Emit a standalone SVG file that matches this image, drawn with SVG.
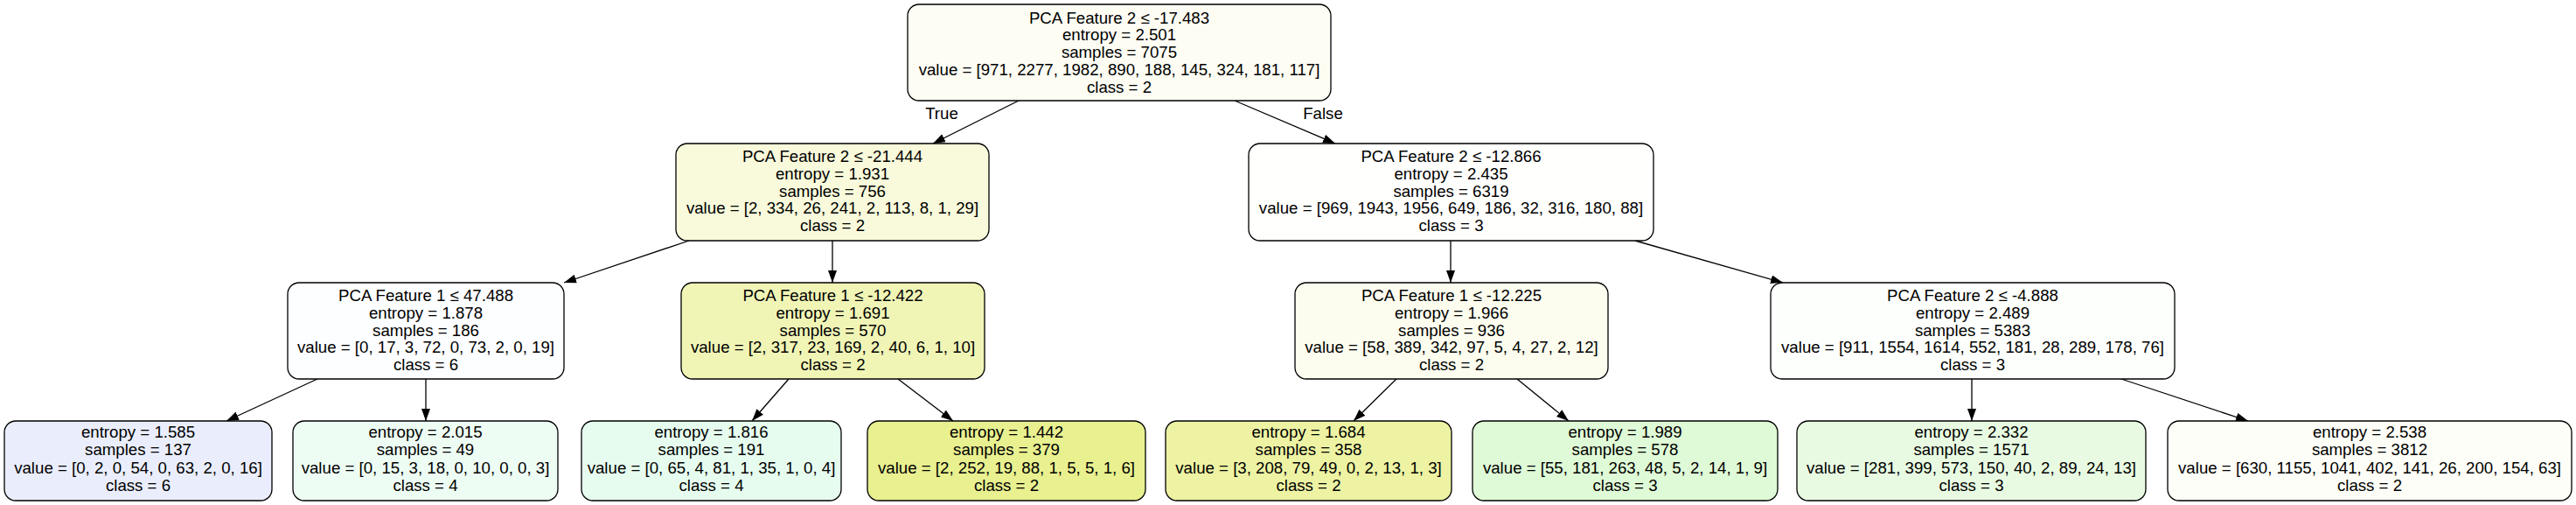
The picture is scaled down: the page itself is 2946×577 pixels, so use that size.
<svg xmlns="http://www.w3.org/2000/svg" width="2946" height="577" viewBox="0 0 2946 577">
<style>
.box{stroke:#000;stroke-width:1.3}
text{font-family:"Liberation Sans",Arial,Helvetica,sans-serif;font-size:18.67px;fill:#000;text-anchor:middle}
.edge{stroke:#000;stroke-width:1.3;fill:none;marker-end:url(#arr)}
</style>
<defs>
<marker id="arr" markerUnits="userSpaceOnUse" markerWidth="16" markerHeight="12" refX="14" refY="5" orient="auto"><path d="M0,0 L14,5 L0,10 Z" fill="#000"/></marker>
</defs>
<rect width="2946" height="577" fill="#fff"/>
<g id="connectors">
<path class="edge" d="M1165,115 L1067,164"/>
<path class="edge" d="M1412,115 L1527,164"/>
<path class="edge" d="M788,275 L645,323"/>
<path class="edge" d="M952,275 L952,323"/>
<path class="edge" d="M1659,275 L1659,323"/>
<path class="edge" d="M1870,275 L2039,323"/>
<path class="edge" d="M363,433 L259,481"/>
<path class="edge" d="M487,433 L487,481"/>
<path class="edge" d="M902,433 L860,481"/>
<path class="edge" d="M1027,433 L1090,481"/>
<path class="edge" d="M1597,433 L1548,481"/>
<path class="edge" d="M1735,433 L1794,481"/>
<path class="edge" d="M2255,433 L2255,481"/>
<path class="edge" d="M2426,433 L2571,481"/>
<text x="1077" y="136">True</text>
<text x="1513" y="136">False</text>
</g>
<g id="n0">
<rect class="box" x="1038" y="5" width="484" height="110" rx="13" fill="#fdfdf4"/>
<text x="1280" y="26.5">PCA Feature 2 ≤ -17.483</text>
<text x="1280" y="46.3">entropy = 2.501</text>
<text x="1280" y="66.1">samples = 7075</text>
<text x="1280" y="85.9">value = [971, 2277, 1982, 890, 188, 145, 324, 181, 117]</text>
<text x="1280" y="105.7">class = 2</text>
</g>
<g id="n1">
<rect class="box" x="773" y="164" width="358" height="111" rx="13" fill="#f8fadb"/>
<text x="952" y="185">PCA Feature 2 ≤ -21.444</text>
<text x="952" y="204.8">entropy = 1.931</text>
<text x="952" y="224.6">samples = 756</text>
<text x="952" y="244.4">value = [2, 334, 26, 241, 2, 113, 8, 1, 29]</text>
<text x="952" y="264.2">class = 2</text>
</g>
<g id="n2">
<rect class="box" x="1428" y="164" width="463" height="111" rx="13" fill="#fffffe"/>
<text x="1659.5" y="185">PCA Feature 2 ≤ -12.866</text>
<text x="1659.5" y="204.8">entropy = 2.435</text>
<text x="1659.5" y="224.6">samples = 6319</text>
<text x="1659.5" y="244.4">value = [969, 1943, 1956, 649, 186, 32, 316, 180, 88]</text>
<text x="1659.5" y="264.2">class = 3</text>
</g>
<g id="n3">
<rect class="box" x="329" y="323" width="316" height="110" rx="13" fill="#fdfeff"/>
<text x="487" y="344">PCA Feature 1 ≤ 47.488</text>
<text x="487" y="363.8">entropy = 1.878</text>
<text x="487" y="383.6">samples = 186</text>
<text x="487" y="403.4">value = [0, 17, 3, 72, 0, 73, 2, 0, 19]</text>
<text x="487" y="423.2">class = 6</text>
</g>
<g id="n4">
<rect class="box" x="779" y="323" width="347" height="110" rx="13" fill="#f0f5b6"/>
<text x="952.5" y="344">PCA Feature 1 ≤ -12.422</text>
<text x="952.5" y="363.8">entropy = 1.691</text>
<text x="952.5" y="383.6">samples = 570</text>
<text x="952.5" y="403.4">value = [2, 317, 23, 169, 2, 40, 6, 1, 10]</text>
<text x="952.5" y="423.2">class = 2</text>
</g>
<g id="n5">
<rect class="box" x="1481" y="323" width="358" height="110" rx="13" fill="#fcfdef"/>
<text x="1660" y="344">PCA Feature 1 ≤ -12.225</text>
<text x="1660" y="363.8">entropy = 1.966</text>
<text x="1660" y="383.6">samples = 936</text>
<text x="1660" y="403.4">value = [58, 389, 342, 97, 5, 4, 27, 2, 12]</text>
<text x="1660" y="423.2">class = 2</text>
</g>
<g id="n6">
<rect class="box" x="2025" y="323" width="462" height="110" rx="13" fill="#fdfffc"/>
<text x="2256" y="344">PCA Feature 2 ≤ -4.888</text>
<text x="2256" y="363.8">entropy = 2.489</text>
<text x="2256" y="383.6">samples = 5383</text>
<text x="2256" y="403.4">value = [911, 1554, 1614, 552, 181, 28, 289, 178, 76]</text>
<text x="2256" y="423.2">class = 3</text>
</g>
<g id="n7">
<rect class="box" x="5" y="481" width="306" height="91" rx="13" fill="#eaeefc"/>
<text x="158" y="499.5">entropy = 1.585</text>
<text x="158" y="520">samples = 137</text>
<text x="158" y="540.5">value = [0, 2, 0, 54, 0, 63, 2, 0, 16]</text>
<text x="158" y="561">class = 6</text>
</g>
<g id="n8">
<rect class="box" x="335" y="481" width="303" height="91" rx="13" fill="#eefdf4"/>
<text x="486.5" y="499.5">entropy = 2.015</text>
<text x="486.5" y="520">samples = 49</text>
<text x="486.5" y="540.5">value = [0, 15, 3, 18, 0, 10, 0, 0, 3]</text>
<text x="486.5" y="561">class = 4</text>
</g>
<g id="n9">
<rect class="box" x="665" y="481" width="297" height="91" rx="13" fill="#e6fcef"/>
<text x="813.5" y="499.5">entropy = 1.816</text>
<text x="813.5" y="520">samples = 191</text>
<text x="813.5" y="540.5">value = [0, 65, 4, 81, 1, 35, 1, 0, 4]</text>
<text x="813.5" y="561">class = 4</text>
</g>
<g id="n10">
<rect class="box" x="992" y="481" width="318" height="91" rx="13" fill="#e8f08f"/>
<text x="1151" y="499.5">entropy = 1.442</text>
<text x="1151" y="520">samples = 379</text>
<text x="1151" y="540.5">value = [2, 252, 19, 88, 1, 5, 5, 1, 6]</text>
<text x="1151" y="561">class = 2</text>
</g>
<g id="n11">
<rect class="box" x="1333" y="481" width="327" height="91" rx="13" fill="#edf3a3"/>
<text x="1496.5" y="499.5">entropy = 1.684</text>
<text x="1496.5" y="520">samples = 358</text>
<text x="1496.5" y="540.5">value = [3, 208, 79, 49, 0, 2, 13, 1, 3]</text>
<text x="1496.5" y="561">class = 2</text>
</g>
<g id="n12">
<rect class="box" x="1684" y="481" width="349" height="91" rx="13" fill="#dffad6"/>
<text x="1858.5" y="499.5">entropy = 1.989</text>
<text x="1858.5" y="520">samples = 578</text>
<text x="1858.5" y="540.5">value = [55, 181, 263, 48, 5, 2, 14, 1, 9]</text>
<text x="1858.5" y="561">class = 3</text>
</g>
<g id="n13">
<rect class="box" x="2055" y="481" width="399" height="91" rx="13" fill="#e8fbe2"/>
<text x="2254.5" y="499.5">entropy = 2.332</text>
<text x="2254.5" y="520">samples = 1571</text>
<text x="2254.5" y="540.5">value = [281, 399, 573, 150, 40, 2, 89, 24, 13]</text>
<text x="2254.5" y="561">class = 3</text>
</g>
<g id="n14">
<rect class="box" x="2479" y="481" width="462" height="91" rx="13" fill="#fdfef7"/>
<text x="2710" y="499.5">entropy = 2.538</text>
<text x="2710" y="520">samples = 3812</text>
<text x="2710" y="540.5">value = [630, 1155, 1041, 402, 141, 26, 200, 154, 63]</text>
<text x="2710" y="561">class = 2</text>
</g>
</svg>
